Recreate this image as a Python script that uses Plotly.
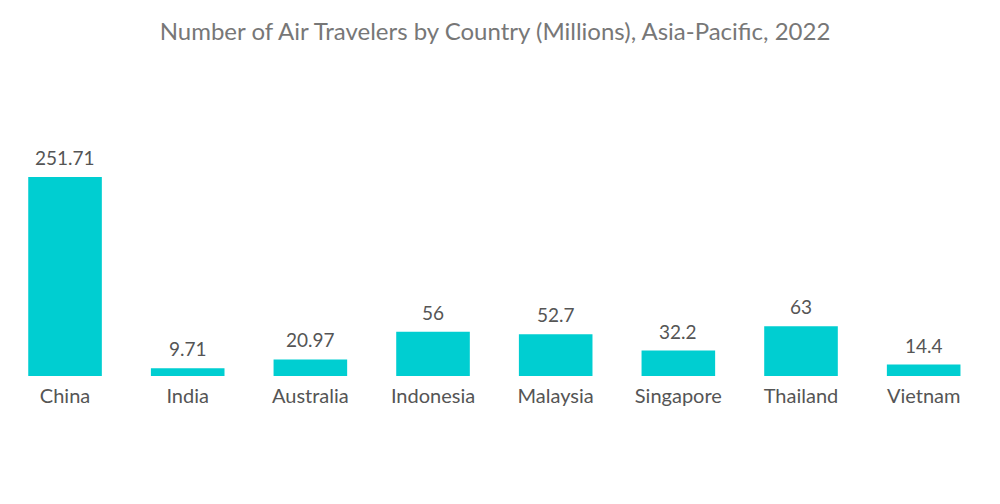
import plotly.graph_objects as go

countries = ["China", "India", "Australia", "Indonesia", "Malaysia", "Singapore", "Thailand", "Vietnam"]
travelers = [251.71, 9.71, 20.97, 56, 52.7, 32.2, 63, 14.4]
labels = ["251.71", "9.71", "20.97", "56", "52.7", "32.2", "63", "14.4"]

fig = go.Figure(go.Bar(
    x=countries, y=travelers,
    marker=dict(color="#00CED1", line=dict(width=0)),
    cliponaxis=False,
))
for c, v, t in zip(countries, travelers, labels):
    fig.add_annotation(x=c, y=v, text=t, showarrow=False, yanchor="bottom", yshift=6,
                       font=dict(family="Lato", size=19, color="#555555"))
fig.update_layout(
    width=1000, height=504,
    paper_bgcolor="white", plot_bgcolor="white",
    title=dict(text="Number of Air Travelers by Country (Millions), Asia-Pacific, 2022",
               x=0.487, xanchor="center", y=0.954, yanchor="middle",
               font=dict(family="Lato", size=24, color="#777777")),
    margin=dict(l=0, r=23, t=120, b=136),
    bargap=0.4,
    showlegend=False,
    xaxis=dict(showline=False, showgrid=False, ticks="", range=[-0.465, 7.5],
               ticklabelstandoff=6,
               tickfont=dict(family="Lato", size=20, color="#555555")),
    yaxis=dict(visible=False, range=[0, 313.5]),
)
fig.write_html("out.html")
